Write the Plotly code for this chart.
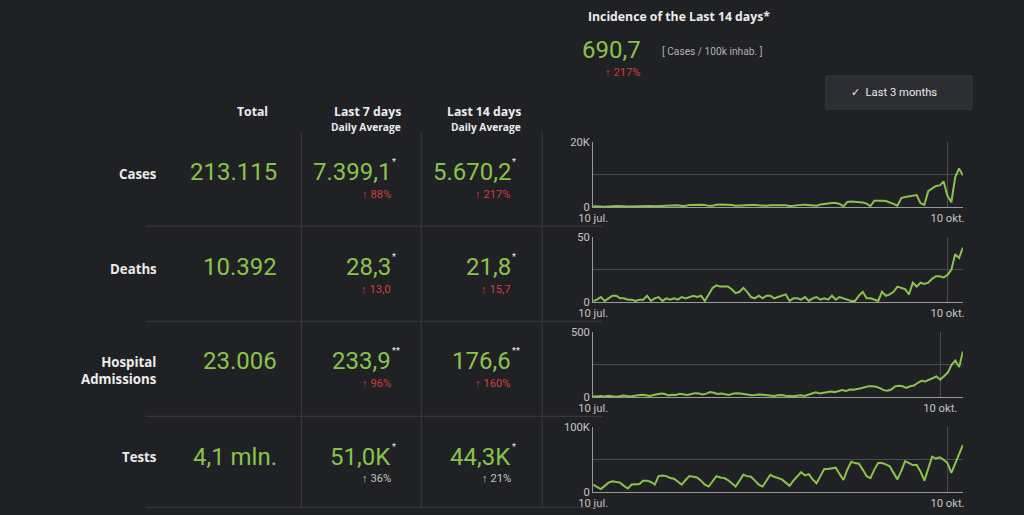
import plotly.graph_objects as go
import pandas as pd

# --- data ---
row_labels = ["Cases", "Deaths", "Hospital<br>Admissions", "Tests"]
totals = ["213.115", "10.392", "23.006", "4,1 mln."]
avg7 = ["7.399,1", "28,3", "233,9", "51,0K"]
avg7_change = ["88%", "13,0", "96%", "36%"]
avg14 = ["5.670,2", "21,8", "176,6", "44,3K"]
avg14_change = ["217%", "15,7", "160%", "21%"]
marks = ["*", "*", "**", "*"]
change_is_bad = [True, True, True, False]

incidence = "690,7"
incidence_change = "217%"

cases = [250, 300, 200, 150, 300, 280, 320, 350, 300, 180,
         220, 400, 380, 420, 450, 350, 250, 300, 500, 550,
         600, 620, 580, 350, 400, 700, 750, 700, 720, 650,
         400, 450, 750, 800, 780, 700, 650, 420, 500, 750,
         700, 680, 650, 600, 380, 420, 600, 650, 620, 600,
         550, 350, 400, 650, 700, 750, 700, 500, 450, 800,
         1000, 1200, 1300, 1250, 1000, 250, 1600, 1700, 1650, 1600,
         1400, 1100, 350, 2000, 2100, 2000, 1900, 1500, 1000, 450,
         2800, 3100, 3300, 3500, 3700, 1200, 700, 4900, 5800, 6500,
         6700, 7900, 3500, 1500, 9200, 11900, 9800]

deaths = [1, 2, 4, 1, 3, 5, 5, 3, 3, 2,
          2, 1, 2, 2, 5, 1, 3, 4, 1, 3,
          2, 3, 2, 4, 3, 4, 5, 4, 5, 1,
          6, 11, 13, 12, 12, 12, 10, 7, 8, 11,
          8, 4, 3, 5, 3, 5, 5, 3, 4, 5,
          6, 1, 3, 3, 2, 4, 1, 3, 4, 2,
          3, 2, 5, 2, 4, 3, 2, 1, 1, 5,
          8, 3, 3, 2, 1, 8, 5, 6, 8, 12,
          11, 10, 6, 15, 12, 15, 14, 15, 18, 20,
          20, 19, 21, 25, 37, 34, 42]

hospital = [8, 6, 10, 7, 12, 9, 5, 8, 14, 10,
            7, 12, 16, 20, 15, 10, 18, 22, 30, 25,
            15, 20, 18, 28, 22, 18, 25, 32, 30, 22,
            28, 40, 35, 25, 30, 22, 18, 28, 32, 30,
            25, 20, 15, 18, 22, 20, 15, 12, 10, 15,
            18, 12, 10, 8, 12, 15, 10, 18, 25, 38,
            30, 35, 38, 45, 40, 50, 55, 48, 60, 58,
            62, 70, 78, 85, 84, 82, 70, 55, 50, 60,
            84, 88, 85, 72, 85, 90, 110, 127, 122, 135,
            150, 160, 135, 165, 190, 250, 283, 232, 352]

tests = [12000, 9000, 5000, 10000, 15000, 17000, 16000, 15000, 10000, 6000,
         12000, 13000, 13000, 18000, 18000, 16000, 12000, 25000, 26000, 25000,
         22000, 21000, 16000, 12000, 19000, 25000, 24000, 23000, 18000, 12000,
         9000, 18000, 25000, 23000, 22000, 19000, 14000, 9000, 18000, 27000,
         25000, 24000, 18000, 12000, 9000, 18000, 27000, 24000, 22000, 20000,
         15000, 10000, 18000, 24000, 31000, 26000, 28000, 20000, 14000, 25000,
         36000, 36000, 37000, 38000, 28000, 19000, 35000, 47000, 45000, 44000,
         35000, 25000, 22000, 35000, 45000, 45000, 43000, 40000, 30000, 20000,
         33000, 48000, 45000, 42000, 42000, 32000, 18000, 35000, 55000, 52000,
         54000, 50000, 45000, 30000, 45000, 60000, 73000]

series = [cases, deaths, hospital, tests]
y_max = [20000, 50, 500, 100000]
y_top_label = ["20K", "50", "500", "100K"]

# --- styling ---
W, H = 1024, 515
BG = "#202125"
GREEN = "#8bc34a"
RED = "#d23c3c"
GREY = "#c4c4c4"
WHITE = "#ececec"
LINE = "#3b3c41"

# the photographed page lands slightly inset/shrunk, so screen positions
# taken from the reference are mapped back to page pixels here
SX, OX = 0.985, 14.5
SY, OY = 0.974, 7.0
FS = 1.02  # font scale to make up for the shrink


def px(x):
    return min(max((x - OX) / SX / W, 0), 1)


def py(y):
    return min(max(1 - (y - OY) / SY / H, 0), 1)


fig = go.Figure()
annotations = []
shapes = []

# sparkline panels (top/bottom pixel rows)
panels = [(143, 208), (238, 303), (333, 398), (428, 493)]
for i, vals in enumerate(series):
    n = i + 1
    dates = pd.date_range("2020-07-10", periods=len(vals), freq="D")
    xa = "x" if n == 1 else "x%d" % n
    ya = "y" if n == 1 else "y%d" % n
    fig.add_trace(go.Scatter(x=dates, y=vals, mode="lines", xaxis=xa, yaxis=ya,
                             line=dict(color=GREEN, width=2), hoverinfo="skip",
                             showlegend=False))
    top, bot = panels[i]
    xkey = "xaxis" if n == 1 else "xaxis%d" % n
    ykey = "yaxis" if n == 1 else "yaxis%d" % n
    fig.update_layout(**{
        xkey: dict(domain=[px(593), px(963)], anchor=ya,
                   range=[dates[0], dates[-1]],
                   tickvals=[pd.Timestamp("2020-07-10"), pd.Timestamp("2020-10-10")],
                   ticktext=["10 jul.", "10 okt."],
                   showgrid=True, gridcolor="#4a4b50", gridwidth=1,
                   showline=True, linecolor="#9a9a9a", linewidth=1,
                   ticks="", zeroline=False, fixedrange=True,
                   tickfont=dict(family="Roboto", size=11 * FS, color=GREY)),
        ykey: dict(domain=[py(bot), py(top)], anchor=xa,
                   range=[0, y_max[i]],
                   tickvals=[0, y_max[i] / 2, y_max[i]],
                   ticktext=["0", "", y_top_label[i]],
                   showgrid=True, gridcolor="#4a4b50", gridwidth=1,
                   showline=True, linecolor="#9a9a9a", linewidth=1,
                   ticks="", zeroline=False, fixedrange=True,
                   tickfont=dict(family="Roboto", size=11 * FS, color=GREY)),
    })


def add_text(text, x, y, size, color, xanchor="right", bold=False, family="Roboto"):
    if bold:
        text = "<b>" + text + "</b>"
    annotations.append(dict(text=text, x=px(x), y=py(y), xref="paper", yref="paper",
                            xanchor=xanchor, yanchor="middle", showarrow=False,
                            align="right" if xanchor == "right" else "center",
                            font=dict(family=family, size=size * FS, color=color)))


# table grid
for vx in [301, 421, 542]:
    shapes.append(dict(type="line", xref="paper", yref="paper",
                       x0=px(vx), x1=px(vx), y0=py(133), y1=0,
                       line=dict(color=LINE, width=1)))
for hy in [227, 322, 417, 508]:
    shapes.append(dict(type="line", xref="paper", yref="paper",
                       x0=px(145), x1=px(602), y0=py(hy), y1=py(hy),
                       line=dict(color=LINE, width=1)))

# column headers
add_text("Total", 270, 112, 12, WHITE, bold=True, family="Open Sans")
add_text("Last 7 days", 403, 112, 12, WHITE, bold=True, family="Open Sans")
add_text("Daily Average", 403, 128, 10, WHITE, bold=True, family="Open Sans")
add_text("Last 14 days", 523, 112, 12, WHITE, bold=True, family="Open Sans")
add_text("Daily Average", 523, 128, 10, WHITE, bold=True, family="Open Sans")

# rows
value_y = [173, 268, 362, 458]
label_y = [175, 270, 371, 458]
change_y = [195, 290, 384, 479]
for i in range(4):
    add_text(row_labels[i], 159, label_y[i], 13, WHITE, bold=True, family="Open Sans")
    add_text(totals[i], 279, value_y[i], 23.5, GREEN)
    add_text(avg7[i], 393, value_y[i], 23.5, GREEN)
    add_text(avg14[i], 513, value_y[i], 23.5, GREEN)
    add_text(marks[i], 390, value_y[i] - 11, 9, WHITE, xanchor="left")
    add_text(marks[i], 510, value_y[i] - 11, 9, WHITE, xanchor="left")
    col = RED if change_is_bad[i] else GREY
    add_text("<b>↑</b> " + avg7_change[i], 393, change_y[i], 11, col)
    add_text("<b>↑</b> " + avg14_change[i], 513, change_y[i], 11, col)

# incidence block
add_text("Incidence of the Last 14 days*", 679, 17, 12, WHITE, xanchor="center",
         bold=True, family="Open Sans")
add_text(incidence, 643, 51, 23.5, GREEN)
add_text("[ Cases / 100k inhab. ]", 660, 52, 10, "#b0b0b0", xanchor="left")
add_text("<b>↑</b> " + incidence_change, 643, 73, 11, RED)

# "Last 3 months" button
shapes.append(dict(type="rect", xref="paper", yref="paper",
                   x0=px(826), x1=px(972), y0=py(110), y1=py(77),
                   fillcolor="#2b2d33", line=dict(color="#3a3c43", width=1)))
add_text("✓  Last 3 months", 894, 93, 11, WHITE, xanchor="center")

fig.update_layout(width=W, height=H, margin=dict(l=0, r=0, t=0, b=0),
                  paper_bgcolor=BG, plot_bgcolor=BG, hovermode=False,
                  annotations=annotations, shapes=shapes,
                  font=dict(family="Roboto", color=GREY))
fig.write_html("out.html", config={"displayModeBar": False, "staticPlot": True},
               post_script="document.body.style.margin='0';"
                           "document.body.style.background='%s';"
                           "document.documentElement.style.background='%s';" % (BG, BG))
